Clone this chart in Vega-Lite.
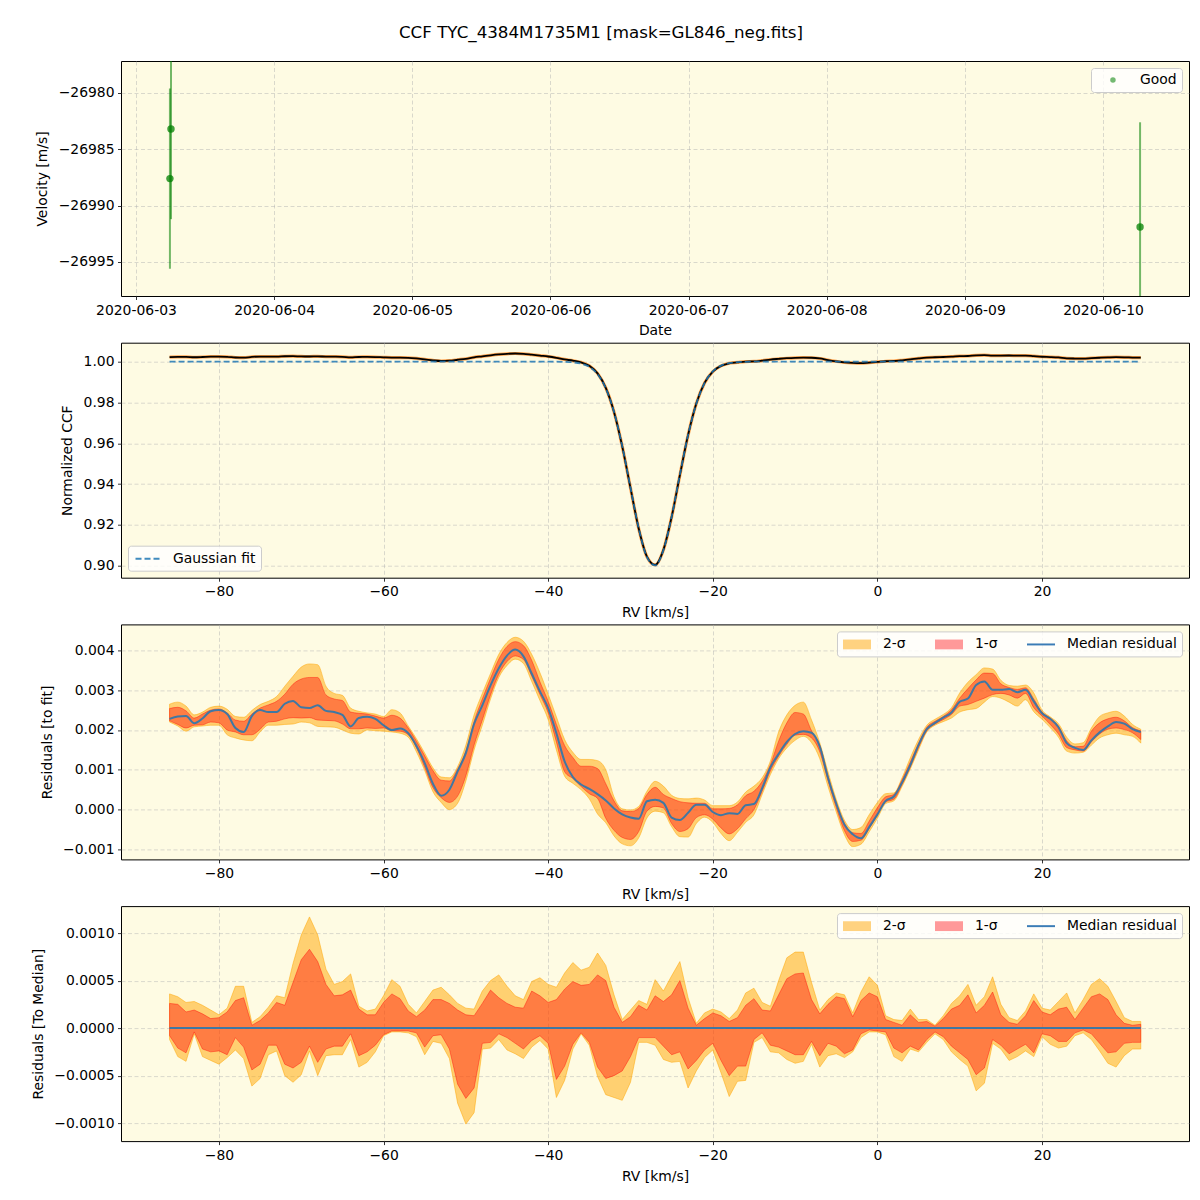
{
"$schema": "https://vega.github.io/schema/vega-lite/v6.json",
"padding": {"left": 30, "top": 24, "right": 5, "bottom": 5},
"title": {"text": "CCF TYC_4384M1735M1 [mask=GL846_neg.fits]", "font": "DejaVu Sans", "fontSize": 16.7, "fontWeight": "normal", "color": "#000", "anchor": "middle", "frame": "group", "dx": -54, "offset": 19},
"bounds": "flush",
"spacing": 46.7,
"resolve": {"scale": {"color": "independent"}, "legend": {"color": "independent"}},
"datasets": {
"vel": [
{"t": "2020-06-03T06:05:00Z", "v": -26983.2, "lo": -26991.2, "hi": -26975.2, "flag": "Good"},
{"t": "2020-06-03T05:54:00Z", "v": -26987.6, "lo": -26995.6, "hi": -26979.6, "flag": "Good"},
{"t": "2020-06-10T06:26:00Z", "v": -26991.9, "lo": -27001.2, "hi": -26982.6, "flag": "Good"}
],
"rv": [
{"rv":-86,"ccf":1.00228,"fit":1,"med":0.00228,"hi2":0.00265,"hi1":0.00254,"lo1":0.00223,"lo2":0.00220,"dhi2":0.00036,"dhi1":0.00026,"dlo1":-0.00008,"dlo2":-0.00012},
{"rv":-85,"ccf":1.00234,"fit":1,"med":0.00234,"hi2":0.00270,"hi1":0.00257,"lo1":0.00214,"lo2":0.00210,"dhi2":0.00033,"dhi1":0.00025,"dlo1":-0.00021,"dlo2":-0.00030},
{"rv":-84,"ccf":1.00235,"fit":1,"med":0.00235,"hi2":0.00260,"hi1":0.00248,"lo1":0.00205,"lo2":0.00197,"dhi2":0.00027,"dhi1":0.00017,"dlo1":-0.00026,"dlo2":-0.00035},
{"rv":-83,"ccf":1.00217,"fit":1,"med":0.00217,"hi2":0.00238,"hi1":0.00230,"lo1":0.00212,"lo2":0.00208,"dhi2":0.00028,"dhi1":0.00019,"dlo1":-0.00004,"dlo2":-0.00006},
{"rv":-82,"ccf":1.00229,"fit":1,"med":0.00229,"hi2":0.00245,"hi1":0.00240,"lo1":0.00213,"lo2":0.00210,"dhi2":0.00024,"dhi1":0.00015,"dlo1":-0.00022,"dlo2":-0.00030},
{"rv":-81,"ccf":1.00247,"fit":1,"med":0.00247,"hi2":0.00257,"hi1":0.00250,"lo1":0.00220,"lo2":0.00212,"dhi2":0.00019,"dhi1":0.00010,"dlo1":-0.00025,"dlo2":-0.00034},
{"rv":-80,"ccf":1.00250,"fit":1,"med":0.00250,"hi2":0.00260,"hi1":0.00253,"lo1":0.00218,"lo2":0.00212,"dhi2":0.00014,"dhi1":0.00011,"dlo1":-0.00024,"dlo2":-0.00038},
{"rv":-79,"ccf":1.00240,"fit":1,"med":0.00240,"hi2":0.00252,"hi1":0.00243,"lo1":0.00200,"lo2":0.00188,"dhi2":0.00021,"dhi1":0.00017,"dlo1":-0.00028,"dlo2":-0.00031},
{"rv":-78,"ccf":1.00205,"fit":1,"med":0.00205,"hi2":0.00234,"hi1":0.00225,"lo1":0.00195,"lo2":0.00180,"dhi2":0.00044,"dhi1":0.00029,"dlo1":-0.00010,"dlo2":-0.00023},
{"rv":-77,"ccf":1.00195,"fit":1,"med":0.00195,"hi2":0.00232,"hi1":0.00222,"lo1":0.00188,"lo2":0.00175,"dhi2":0.00044,"dhi1":0.00032,"dlo1":-0.00020,"dlo2":-0.00032},
{"rv":-76,"ccf":1.00235,"fit":1,"med":0.00235,"hi2":0.00249,"hi1":0.00240,"lo1":0.00188,"lo2":0.00173,"dhi2":0.00006,"dhi1":0.00003,"dlo1":-0.00044,"dlo2":-0.00061},
{"rv":-75,"ccf":1.00250,"fit":1,"med":0.00250,"hi2":0.00264,"hi1":0.00255,"lo1":0.00202,"lo2":0.00195,"dhi2":0.00012,"dhi1":0.00008,"dlo1":-0.00038,"dlo2":-0.00053},
{"rv":-74,"ccf":1.00245,"fit":1,"med":0.00245,"hi2":0.00272,"hi1":0.00263,"lo1":0.00220,"lo2":0.00212,"dhi2":0.00022,"dhi1":0.00016,"dlo1":-0.00018,"dlo2":-0.00028},
{"rv":-73,"ccf":1.00245,"fit":1,"med":0.00245,"hi2":0.00284,"hi1":0.00272,"lo1":0.00222,"lo2":0.00212,"dhi2":0.00034,"dhi1":0.00027,"dlo1":-0.00018,"dlo2":-0.00024},
{"rv":-72,"ccf":1.00266,"fit":1,"med":0.00266,"hi2":0.00310,"hi1":0.00290,"lo1":0.00228,"lo2":0.00214,"dhi2":0.00032,"dhi1":0.00024,"dlo1":-0.00038,"dlo2":-0.00050},
{"rv":-71,"ccf":1.00273,"fit":1,"med":0.00273,"hi2":0.00335,"hi1":0.00315,"lo1":0.00231,"lo2":0.00215,"dhi2":0.00068,"dhi1":0.00048,"dlo1":-0.00042,"dlo2":-0.00057},
{"rv":-70,"ccf":1.00257,"fit":1,"med":0.00257,"hi2":0.00358,"hi1":0.00328,"lo1":0.00230,"lo2":0.00220,"dhi2":0.00098,"dhi1":0.00072,"dlo1":-0.00036,"dlo2":-0.00049},
{"rv":-69,"ccf":1.00255,"fit":1,"med":0.00255,"hi2":0.00366,"hi1":0.00332,"lo1":0.00231,"lo2":0.00218,"dhi2":0.00117,"dhi1":0.00083,"dlo1":-0.00019,"dlo2":-0.00024},
{"rv":-68,"ccf":1.00262,"fit":1,"med":0.00262,"hi2":0.00364,"hi1":0.00332,"lo1":0.00225,"lo2":0.00209,"dhi2":0.00098,"dhi1":0.00070,"dlo1":-0.00036,"dlo2":-0.00050},
{"rv":-67,"ccf":1.00248,"fit":1,"med":0.00248,"hi2":0.00310,"hi1":0.00288,"lo1":0.00224,"lo2":0.00208,"dhi2":0.00062,"dhi1":0.00046,"dlo1":-0.00022,"dlo2":-0.00029},
{"rv":-66,"ccf":1.00245,"fit":1,"med":0.00245,"hi2":0.00292,"hi1":0.00278,"lo1":0.00223,"lo2":0.00207,"dhi2":0.00046,"dhi1":0.00034,"dlo1":-0.00019,"dlo2":-0.00028},
{"rv":-65,"ccf":1.00238,"fit":1,"med":0.00238,"hi2":0.00287,"hi1":0.00274,"lo1":0.00215,"lo2":0.00200,"dhi2":0.00049,"dhi1":0.00035,"dlo1":-0.00019,"dlo2":-0.00028},
{"rv":-64,"ccf":1.00209,"fit":1,"med":0.00209,"hi2":0.00255,"hi1":0.00245,"lo1":0.00203,"lo2":0.00192,"dhi2":0.00057,"dhi1":0.00040,"dlo1":-0.00006,"dlo2":-0.00012},
{"rv":-63,"ccf":1.00230,"fit":1,"med":0.00230,"hi2":0.00247,"hi1":0.00242,"lo1":0.00203,"lo2":0.00190,"dhi2":0.00023,"dhi1":0.00020,"dlo1":-0.00029,"dlo2":-0.00041},
{"rv":-62,"ccf":1.00233,"fit":1,"med":0.00233,"hi2":0.00243,"hi1":0.00240,"lo1":0.00205,"lo2":0.00200,"dhi2":0.00018,"dhi1":0.00014,"dlo1":-0.00025,"dlo2":-0.00036},
{"rv":-61,"ccf":1.00228,"fit":1,"med":0.00228,"hi2":0.00240,"hi1":0.00235,"lo1":0.00204,"lo2":0.00198,"dhi2":0.00020,"dhi1":0.00014,"dlo1":-0.00018,"dlo2":-0.00025},
{"rv":-60,"ccf":1.00212,"fit":1,"med":0.00212,"hi2":0.00234,"hi1":0.00230,"lo1":0.00205,"lo2":0.00197,"dhi2":0.00034,"dhi1":0.00027,"dlo1":-0.00007,"dlo2":-0.00008},
{"rv":-59,"ccf":1.00200,"fit":1,"med":0.00200,"hi2":0.00251,"hi1":0.00237,"lo1":0.00198,"lo2":0.00195,"dhi2":0.00051,"dhi1":0.00036,"dlo1":-0.00003,"dlo2":-0.00004},
{"rv":-58,"ccf":1.00204,"fit":1,"med":0.00204,"hi2":0.00243,"hi1":0.00230,"lo1":0.00197,"lo2":0.00192,"dhi2":0.00044,"dhi1":0.00031,"dlo1":-0.00003,"dlo2":-0.00004},
{"rv":-57,"ccf":1.00192,"fit":1,"med":0.00192,"hi2":0.00210,"hi1":0.00205,"lo1":0.00188,"lo2":0.00182,"dhi2":0.00025,"dhi1":0.00018,"dlo1":-0.00003,"dlo2":-0.00005},
{"rv":-56,"ccf":1.00160,"fit":1,"med":0.00160,"hi2":0.00178,"hi1":0.00172,"lo1":0.00155,"lo2":0.00145,"dhi2":0.00016,"dhi1":0.00012,"dlo1":-0.00005,"dlo2":-0.00009},
{"rv":-55,"ccf":1.00117,"fit":1,"med":0.00117,"hi2":0.00142,"hi1":0.00135,"lo1":0.00106,"lo2":0.00098,"dhi2":0.00028,"dhi1":0.00019,"dlo1":-0.00020,"dlo2":-0.00028},
{"rv":-54,"ccf":1.00065,"fit":1,"med":0.00065,"hi2":0.00105,"hi1":0.00098,"lo1":0.00055,"lo2":0.00045,"dhi2":0.00040,"dhi1":0.00030,"dlo1":-0.00008,"dlo2":-0.00014},
{"rv":-53,"ccf":1.00035,"fit":1,"med":0.00035,"hi2":0.00082,"hi1":0.00074,"lo1":0.00030,"lo2":0.00018,"dhi2":0.00043,"dhi1":0.00030,"dlo1":-0.00007,"dlo2":-0.00016},
{"rv":-52,"ccf":1.00050,"fit":1,"med":0.00050,"hi2":0.00080,"hi1":0.00072,"lo1":0.00018,"lo2":0.00000,"dhi2":0.00035,"dhi1":0.00026,"dlo1":-0.00022,"dlo2":-0.00032},
{"rv":-51,"ccf":1.00096,"fit":1,"med":0.00096,"hi2":0.00108,"hi1":0.00102,"lo1":0.00034,"lo2":0.00016,"dhi2":0.00026,"dhi1":0.00019,"dlo1":-0.00059,"dlo2":-0.00079},
{"rv":-50,"ccf":1.00142,"fit":1,"med":0.00142,"hi2":0.00162,"hi1":0.00148,"lo1":0.00085,"lo2":0.00072,"dhi2":0.00021,"dhi1":0.00014,"dlo1":-0.00074,"dlo2":-0.00101},
{"rv":-49,"ccf":1.00215,"fit":1,"med":0.00215,"hi2":0.00238,"hi1":0.00222,"lo1":0.00162,"lo2":0.00150,"dhi2":0.00020,"dhi1":0.00013,"dlo1":-0.00063,"dlo2":-0.00089},
{"rv":-48,"ccf":1.00262,"fit":1,"med":0.00262,"hi2":0.00292,"hi1":0.00278,"lo1":0.00225,"lo2":0.00212,"dhi2":0.00039,"dhi1":0.00026,"dlo1":-0.00016,"dlo2":-0.00022},
{"rv":-47,"ccf":1.00312,"fit":1,"med":0.00312,"hi2":0.00342,"hi1":0.00330,"lo1":0.00288,"lo2":0.00278,"dhi2":0.00050,"dhi1":0.00040,"dlo1":-0.00015,"dlo2":-0.00021},
{"rv":-46,"ccf":1.00355,"fit":1,"med":0.00355,"hi2":0.00390,"hi1":0.00378,"lo1":0.00340,"lo2":0.00332,"dhi2":0.00056,"dhi1":0.00032,"dlo1":-0.00006,"dlo2":-0.00012},
{"rv":-45,"ccf":1.00387,"fit":1,"med":0.00387,"hi2":0.00420,"hi1":0.00410,"lo1":0.00372,"lo2":0.00362,"dhi2":0.00044,"dhi1":0.00026,"dlo1":-0.00010,"dlo2":-0.00023},
{"rv":-44,"ccf":1.00402,"fit":1,"med":0.00402,"hi2":0.00433,"hi1":0.00422,"lo1":0.00386,"lo2":0.00378,"dhi2":0.00034,"dhi1":0.00022,"dlo1":-0.00016,"dlo2":-0.00027},
{"rv":-43,"ccf":1.00385,"fit":1,"med":0.00385,"hi2":0.00423,"hi1":0.00412,"lo1":0.00377,"lo2":0.00367,"dhi2":0.00030,"dhi1":0.00021,"dlo1":-0.00022,"dlo2":-0.00032},
{"rv":-42,"ccf":1.00342,"fit":1,"med":0.00342,"hi2":0.00390,"hi1":0.00375,"lo1":0.00335,"lo2":0.00322,"dhi2":0.00049,"dhi1":0.00039,"dlo1":-0.00013,"dlo2":-0.00020},
{"rv":-41,"ccf":1.00297,"fit":1,"med":0.00297,"hi2":0.00344,"hi1":0.00321,"lo1":0.00289,"lo2":0.00274,"dhi2":0.00053,"dhi1":0.00034,"dlo1":-0.00008,"dlo2":-0.00013},
{"rv":-40,"ccf":1.00255,"fit":1,"med":0.00255,"hi2":0.00290,"hi1":0.00272,"lo1":0.00243,"lo2":0.00226,"dhi2":0.00046,"dhi1":0.00027,"dlo1":-0.00016,"dlo2":-0.00022},
{"rv":-39,"ccf":1.00192,"fit":1,"med":0.00192,"hi2":0.00233,"hi1":0.00214,"lo1":0.00170,"lo2":0.00150,"dhi2":0.00043,"dhi1":0.00030,"dlo1":-0.00054,"dlo2":-0.00073},
{"rv":-38,"ccf":1.00112,"fit":0.99991,"med":0.00121,"hi2":0.00176,"hi1":0.00161,"lo1":0.00095,"lo2":0.00084,"dhi2":0.00058,"dhi1":0.00041,"dlo1":-0.00040,"dlo2":-0.00055},
{"rv":-37,"ccf":1.00051,"fit":0.99969,"med":0.00082,"hi2":0.00144,"hi1":0.00131,"lo1":0.00078,"lo2":0.00066,"dhi2":0.00069,"dhi1":0.00049,"dlo1":-0.00017,"dlo2":-0.00022},
{"rv":-36,"ccf":0.99968,"fit":0.99905,"med":0.00063,"hi2":0.00126,"hi1":0.00109,"lo1":0.00058,"lo2":0.00050,"dhi2":0.00061,"dhi1":0.00045,"dlo1":-0.00005,"dlo2":-0.00006},
{"rv":-35,"ccf":0.99797,"fit":0.99745,"med":0.00052,"hi2":0.00126,"hi1":0.00109,"lo1":0.00040,"lo2":0.00027,"dhi2":0.00064,"dhi1":0.00046,"dlo1":-0.00015,"dlo2":-0.00018},
{"rv":-34,"ccf":0.99427,"fit":0.99388,"med":0.00039,"hi2":0.00123,"hi1":0.00103,"lo1":0.00028,"lo2":-0.00011,"dhi2":0.00079,"dhi1":0.00056,"dlo1":-0.00041,"dlo2":-0.00051},
{"rv":-33,"ccf":0.98719,"fit":0.98696,"med":0.00023,"hi2":0.00100,"hi1":0.00065,"lo1":-0.00022,"lo2":-0.00033,"dhi2":0.00066,"dhi1":0.00050,"dlo1":-0.00053,"dlo2":-0.00070},
{"rv":-32,"ccf":0.97537,"fit":0.97534,"med":0.00003,"hi2":0.00032,"hi1":0.00022,"lo1":-0.00052,"lo2":-0.00066,"dhi2":0.00035,"dhi1":0.00022,"dlo1":-0.00050,"dlo2":-0.00073},
{"rv":-31,"ccf":0.95848,"fit":0.95860,"med":-0.00012,"hi2":0.00002,"hi1":-0.00003,"lo1":-0.00070,"lo2":-0.00086,"dhi2":0.00009,"dhi1":0.00006,"dlo1":-0.00045,"dlo2":-0.00076},
{"rv":-30,"ccf":0.93814,"fit":0.93834,"med":-0.00020,"hi2":-0.00001,"hi1":-0.00005,"lo1":-0.00075,"lo2":-0.00091,"dhi2":0.00019,"dhi1":0.00012,"dlo1":-0.00030,"dlo2":-0.00057},
{"rv":-29,"ccf":0.91820,"fit":0.91843,"med":-0.00023,"hi2":0.00008,"hi1":0.00003,"lo1":-0.00055,"lo2":-0.00071,"dhi2":0.00029,"dhi1":0.00024,"dlo1":-0.00010,"dlo2":-0.00015},
{"rv":-28,"ccf":0.90442,"fit":0.90421,"med":0.00021,"hi2":0.00046,"hi1":0.00038,"lo1":-0.00004,"lo2":-0.00021,"dhi2":0.00025,"dhi1":0.00019,"dlo1":-0.00010,"dlo2":-0.00015},
{"rv":-27,"ccf":0.90038,"fit":0.90013,"med":0.00025,"hi2":0.00071,"hi1":0.00056,"lo1":0.00008,"lo2":-0.00004,"dhi2":0.00051,"dhi1":0.00034,"dlo1":-0.00010,"dlo2":-0.00018},
{"rv":-26,"ccf":0.90774,"fit":0.90757,"med":0.00017,"hi2":0.00059,"hi1":0.00038,"lo1":0.00004,"lo2":-0.00008,"dhi2":0.00039,"dhi1":0.00028,"dlo1":-0.00019,"dlo2":-0.00033},
{"rv":-25,"ccf":0.92385,"fit":0.92405,"med":-0.00020,"hi2":0.00036,"hi1":0.00028,"lo1":-0.00035,"lo2":-0.00043,"dhi2":0.00055,"dhi1":0.00035,"dlo1":-0.00028,"dlo2":-0.00036},
{"rv":-24,"ccf":0.94434,"fit":0.94460,"med":-0.00026,"hi2":0.00028,"hi1":0.00020,"lo1":-0.00055,"lo2":-0.00068,"dhi2":0.00070,"dhi1":0.00050,"dlo1":-0.00025,"dlo2":-0.00035},
{"rv":-23,"ccf":0.96404,"fit":0.96412,"med":-0.00008,"hi2":0.00027,"hi1":0.00017,"lo1":-0.00048,"lo2":-0.00069,"dhi2":0.00032,"dhi1":0.00021,"dlo1":-0.00043,"dlo2":-0.00063},
{"rv":-22,"ccf":0.97950,"fit":0.97938,"med":0.00012,"hi2":0.00029,"hi1":0.00016,"lo1":-0.00020,"lo2":-0.00035,"dhi2":0.00005,"dhi1":0.00003,"dlo1":-0.00034,"dlo2":-0.00045},
{"rv":-21,"ccf":0.98959,"fit":0.98947,"med":0.00012,"hi2":0.00024,"hi1":0.00016,"lo1":-0.00013,"lo2":-0.00019,"dhi2":0.00016,"dhi1":0.00010,"dlo1":-0.00023,"dlo2":-0.00031},
{"rv":-20,"ccf":0.99517,"fit":0.99523,"med":-0.00006,"hi2":0.00010,"hi1":0.00002,"lo1":-0.00024,"lo2":-0.00032,"dhi2":0.00020,"dhi1":0.00016,"dlo1":-0.00016,"dlo2":-0.00023},
{"rv":-19,"ccf":0.99794,"fit":0.99808,"med":-0.00014,"hi2":0.00010,"hi1":0.00002,"lo1":-0.00046,"lo2":-0.00060,"dhi2":0.00017,"dhi1":0.00013,"dlo1":-0.00034,"dlo2":-0.00047},
{"rv":-18,"ccf":0.99922,"fit":0.99931,"med":-0.00009,"hi2":0.00010,"hi1":0.00003,"lo1":-0.00061,"lo2":-0.00078,"dhi2":0.00010,"dhi1":0.00007,"dlo1":-0.00050,"dlo2":-0.00072},
{"rv":-17,"ccf":0.99967,"fit":0.99978,"med":-0.00011,"hi2":0.00019,"hi1":0.00012,"lo1":-0.00048,"lo2":-0.00057,"dhi2":0.00019,"dhi1":0.00011,"dlo1":-0.00040,"dlo2":-0.00056},
{"rv":-16,"ccf":1.00005,"fit":0.99994,"med":0.00011,"hi2":0.00044,"hi1":0.00035,"lo1":-0.00023,"lo2":-0.00032,"dhi2":0.00037,"dhi1":0.00024,"dlo1":-0.00040,"dlo2":-0.00055},
{"rv":-15,"ccf":1.00014,"fit":1,"med":0.00014,"hi2":0.00059,"hi1":0.00046,"lo1":0.00000,"lo2":-0.00013,"dhi2":0.00042,"dhi1":0.00031,"dlo1":-0.00012,"dlo2":-0.00015},
{"rv":-14,"ccf":1.00054,"fit":1,"med":0.00054,"hi2":0.00080,"hi1":0.00071,"lo1":0.00046,"lo2":0.00038,"dhi2":0.00027,"dhi1":0.00019,"dlo1":-0.00005,"dlo2":-0.00010},
{"rv":-13,"ccf":1.00106,"fit":1,"med":0.00106,"hi2":0.00122,"hi1":0.00113,"lo1":0.00097,"lo2":0.00088,"dhi2":0.00023,"dhi1":0.00018,"dlo1":-0.00018,"dlo2":-0.00025},
{"rv":-12,"ccf":1.00140,"fit":1,"med":0.00140,"hi2":0.00195,"hi1":0.00172,"lo1":0.00134,"lo2":0.00128,"dhi2":0.00050,"dhi1":0.00035,"dlo1":-0.00020,"dlo2":-0.00026},
{"rv":-11,"ccf":1.00170,"fit":1,"med":0.00170,"hi2":0.00238,"hi1":0.00218,"lo1":0.00164,"lo2":0.00155,"dhi2":0.00074,"dhi1":0.00052,"dlo1":-0.00024,"dlo2":-0.00033},
{"rv":-10,"ccf":1.00190,"fit":1,"med":0.00190,"hi2":0.00262,"hi1":0.00244,"lo1":0.00187,"lo2":0.00174,"dhi2":0.00080,"dhi1":0.00057,"dlo1":-0.00028,"dlo2":-0.00037},
{"rv":-9,"ccf":1.00197,"fit":1,"med":0.00197,"hi2":0.00270,"hi1":0.00240,"lo1":0.00189,"lo2":0.00184,"dhi2":0.00080,"dhi1":0.00058,"dlo1":-0.00028,"dlo2":-0.00035},
{"rv":-8,"ccf":1.00193,"fit":1,"med":0.00193,"hi2":0.00225,"hi1":0.00198,"lo1":0.00180,"lo2":0.00168,"dhi2":0.00048,"dhi1":0.00030,"dlo1":-0.00014,"dlo2":-0.00017},
{"rv":-7,"ccf":1.00158,"fit":1,"med":0.00158,"hi2":0.00168,"hi1":0.00162,"lo1":0.00145,"lo2":0.00128,"dhi2":0.00019,"dhi1":0.00015,"dlo1":-0.00029,"dlo2":-0.00041},
{"rv":-6,"ccf":1.00080,"fit":1,"med":0.00080,"hi2":0.00095,"hi1":0.00085,"lo1":0.00072,"lo2":0.00058,"dhi2":0.00030,"dhi1":0.00025,"dlo1":-0.00016,"dlo2":-0.00029},
{"rv":-5,"ccf":1.00015,"fit":1,"med":0.00015,"hi2":0.00026,"hi1":0.00018,"lo1":0.00005,"lo2":-0.00006,"dhi2":0.00037,"dhi1":0.00033,"dlo1":-0.00019,"dlo2":-0.00027},
{"rv":-4,"ccf":0.99962,"fit":1,"med":-0.00038,"hi2":-0.00027,"hi1":-0.00034,"lo1":-0.00053,"lo2":-0.00063,"dhi2":0.00035,"dhi1":0.00031,"dlo1":-0.00027,"dlo2":-0.00031},
{"rv":-3,"ccf":0.99938,"fit":1,"med":-0.00062,"hi2":-0.00050,"hi1":-0.00058,"lo1":-0.00080,"lo2":-0.00093,"dhi2":0.00016,"dhi1":0.00012,"dlo1":-0.00023,"dlo2":-0.00025},
{"rv":-2,"ccf":0.99928,"fit":1,"med":-0.00072,"hi2":-0.00045,"hi1":-0.00060,"lo1":-0.00077,"lo2":-0.00087,"dhi2":0.00038,"dhi1":0.00029,"dlo1":-0.00006,"dlo2":-0.00010},
{"rv":-1,"ccf":0.99956,"fit":1,"med":-0.00044,"hi2":-0.00013,"hi1":-0.00029,"lo1":-0.00048,"lo2":-0.00056,"dhi2":0.00054,"dhi1":0.00037,"dlo1":-0.00002,"dlo2":-0.00004},
{"rv":0,"ccf":0.99988,"fit":1,"med":-0.00012,"hi2":0.00018,"hi1":0.00005,"lo1":-0.00014,"lo2":-0.00022,"dhi2":0.00045,"dhi1":0.00033,"dlo1":-0.00003,"dlo2":-0.00004},
{"rv":1,"ccf":1.00022,"fit":1,"med":0.00022,"hi2":0.00040,"hi1":0.00032,"lo1":0.00019,"lo2":0.00015,"dhi2":0.00013,"dhi1":0.00009,"dlo1":-0.00004,"dlo2":-0.00007},
{"rv":2,"ccf":1.00033,"fit":1,"med":0.00033,"hi2":0.00042,"hi1":0.00038,"lo1":0.00026,"lo2":0.00022,"dhi2":0.00009,"dhi1":0.00006,"dlo1":-0.00021,"dlo2":-0.00030},
{"rv":3,"ccf":1.00068,"fit":1,"med":0.00068,"hi2":0.00080,"hi1":0.00075,"lo1":0.00063,"lo2":0.00058,"dhi2":0.00008,"dhi1":0.00003,"dlo1":-0.00026,"dlo2":-0.00035},
{"rv":4,"ccf":1.00112,"fit":1,"med":0.00112,"hi2":0.00130,"hi1":0.00120,"lo1":0.00107,"lo2":0.00102,"dhi2":0.00020,"dhi1":0.00014,"dlo1":-0.00019,"dlo2":-0.00022},
{"rv":5,"ccf":1.00162,"fit":1,"med":0.00162,"hi2":0.00176,"hi1":0.00167,"lo1":0.00156,"lo2":0.00150,"dhi2":0.00009,"dhi1":0.00006,"dlo1":-0.00023,"dlo2":-0.00025},
{"rv":6,"ccf":1.00202,"fit":1,"med":0.00202,"hi2":0.00212,"hi1":0.00207,"lo1":0.00198,"lo2":0.00195,"dhi2":0.00009,"dhi1":0.00007,"dlo1":-0.00012,"dlo2":-0.00015},
{"rv":7,"ccf":1.00218,"fit":1,"med":0.00218,"hi2":0.00227,"hi1":0.00222,"lo1":0.00215,"lo2":0.00212,"dhi2":0.00003,"dhi1":0.00002,"dlo1":-0.00004,"dlo2":-0.00006},
{"rv":8,"ccf":1.00231,"fit":1,"med":0.00231,"hi2":0.00239,"hi1":0.00234,"lo1":0.00226,"lo2":0.00221,"dhi2":0.00013,"dhi1":0.00010,"dlo1":-0.00009,"dlo2":-0.00012},
{"rv":9,"ccf":1.00244,"fit":1,"med":0.00244,"hi2":0.00256,"hi1":0.00251,"lo1":0.00239,"lo2":0.00230,"dhi2":0.00026,"dhi1":0.00020,"dlo1":-0.00019,"dlo2":-0.00025},
{"rv":10,"ccf":1.00271,"fit":1,"med":0.00271,"hi2":0.00293,"hi1":0.00280,"lo1":0.00260,"lo2":0.00245,"dhi2":0.00034,"dhi1":0.00024,"dlo1":-0.00026,"dlo2":-0.00033},
{"rv":11,"ccf":1.00279,"fit":1,"med":0.00279,"hi2":0.00320,"hi1":0.00304,"lo1":0.00264,"lo2":0.00251,"dhi2":0.00046,"dhi1":0.00035,"dlo1":-0.00033,"dlo2":-0.00040},
{"rv":12,"ccf":1.00313,"fit":1,"med":0.00313,"hi2":0.00339,"hi1":0.00326,"lo1":0.00272,"lo2":0.00254,"dhi2":0.00024,"dhi1":0.00016,"dlo1":-0.00049,"dlo2":-0.00066},
{"rv":13,"ccf":1.00322,"fit":1,"med":0.00322,"hi2":0.00356,"hi1":0.00343,"lo1":0.00280,"lo2":0.00270,"dhi2":0.00033,"dhi1":0.00024,"dlo1":-0.00042,"dlo2":-0.00058},
{"rv":14,"ccf":1.00301,"fit":1,"med":0.00301,"hi2":0.00353,"hi1":0.00342,"lo1":0.00289,"lo2":0.00284,"dhi2":0.00054,"dhi1":0.00038,"dlo1":-0.00012,"dlo2":-0.00016},
{"rv":15,"ccf":1.00301,"fit":1,"med":0.00301,"hi2":0.00325,"hi1":0.00316,"lo1":0.00292,"lo2":0.00280,"dhi2":0.00025,"dhi1":0.00014,"dlo1":-0.00018,"dlo2":-0.00022},
{"rv":16,"ccf":1.00303,"fit":1,"med":0.00303,"hi2":0.00312,"hi1":0.00307,"lo1":0.00288,"lo2":0.00270,"dhi2":0.00011,"dhi1":0.00006,"dlo1":-0.00027,"dlo2":-0.00034},
{"rv":17,"ccf":1.00295,"fit":1,"med":0.00295,"hi2":0.00310,"hi1":0.00302,"lo1":0.00280,"lo2":0.00260,"dhi2":0.00008,"dhi1":0.00004,"dlo1":-0.00022,"dlo2":-0.00030},
{"rv":18,"ccf":1.00301,"fit":1,"med":0.00301,"hi2":0.00313,"hi1":0.00306,"lo1":0.00292,"lo2":0.00276,"dhi2":0.00018,"dhi1":0.00013,"dlo1":-0.00017,"dlo2":-0.00024},
{"rv":19,"ccf":1.00272,"fit":1,"med":0.00272,"hi2":0.00293,"hi1":0.00278,"lo1":0.00256,"lo2":0.00246,"dhi2":0.00036,"dhi1":0.00029,"dlo1":-0.00026,"dlo2":-0.00030},
{"rv":20,"ccf":1.00242,"fit":1,"med":0.00242,"hi2":0.00250,"hi1":0.00245,"lo1":0.00235,"lo2":0.00227,"dhi2":0.00021,"dhi1":0.00017,"dlo1":-0.00006,"dlo2":-0.00009},
{"rv":21,"ccf":1.00228,"fit":1,"med":0.00228,"hi2":0.00233,"hi1":0.00230,"lo1":0.00214,"lo2":0.00206,"dhi2":0.00019,"dhi1":0.00014,"dlo1":-0.00008,"dlo2":-0.00017},
{"rv":22,"ccf":1.00207,"fit":1,"med":0.00207,"hi2":0.00216,"hi1":0.00210,"lo1":0.00190,"lo2":0.00182,"dhi2":0.00028,"dhi1":0.00020,"dlo1":-0.00014,"dlo2":-0.00021},
{"rv":23,"ccf":1.00167,"fit":1,"med":0.00167,"hi2":0.00182,"hi1":0.00173,"lo1":0.00156,"lo2":0.00147,"dhi2":0.00037,"dhi1":0.00022,"dlo1":-0.00014,"dlo2":-0.00019},
{"rv":24,"ccf":1.00155,"fit":1,"med":0.00155,"hi2":0.00165,"hi1":0.00158,"lo1":0.00150,"lo2":0.00142,"dhi2":0.00016,"dhi1":0.00009,"dlo1":-0.00005,"dlo2":-0.00008},
{"rv":25,"ccf":1.00150,"fit":1,"med":0.00150,"hi2":0.00168,"hi1":0.00159,"lo1":0.00147,"lo2":0.00144,"dhi2":0.00030,"dhi1":0.00021,"dlo1":-0.00002,"dlo2":-0.00005},
{"rv":26,"ccf":1.00174,"fit":1,"med":0.00174,"hi2":0.00205,"hi1":0.00197,"lo1":0.00170,"lo2":0.00162,"dhi2":0.00046,"dhi1":0.00033,"dlo1":-0.00006,"dlo2":-0.00012},
{"rv":27,"ccf":1.00194,"fit":1,"med":0.00194,"hi2":0.00234,"hi1":0.00218,"lo1":0.00190,"lo2":0.00180,"dhi2":0.00052,"dhi1":0.00036,"dlo1":-0.00016,"dlo2":-0.00024},
{"rv":28,"ccf":1.00209,"fit":1,"med":0.00209,"hi2":0.00243,"hi1":0.00228,"lo1":0.00202,"lo2":0.00188,"dhi2":0.00044,"dhi1":0.00030,"dlo1":-0.00026,"dlo2":-0.00037},
{"rv":29,"ccf":1.00220,"fit":1,"med":0.00220,"hi2":0.00247,"hi1":0.00232,"lo1":0.00205,"lo2":0.00192,"dhi2":0.00028,"dhi1":0.00014,"dlo1":-0.00025,"dlo2":-0.00041},
{"rv":30,"ccf":1.00216,"fit":1,"med":0.00216,"hi2":0.00235,"hi1":0.00223,"lo1":0.00201,"lo2":0.00188,"dhi2":0.00011,"dhi1":0.00005,"dlo1":-0.00016,"dlo2":-0.00029},
{"rv":31,"ccf":1.00202,"fit":1,"med":0.00202,"hi2":0.00214,"hi1":0.00206,"lo1":0.00193,"lo2":0.00184,"dhi2":0.00007,"dhi1":0.00003,"dlo1":-0.00015,"dlo2":-0.00022},
{"rv":32,"ccf":1.00195,"fit":1,"med":0.00195,"hi2":0.00202,"hi1":0.00198,"lo1":0.00176,"lo2":0.00167,"dhi2":0.00007,"dhi1":0.00004,"dlo1":-0.00015,"dlo2":-0.00022}
]
},
"vconcat": [
{
"width": 1068, "height": 235,
"data": {"name": "vel"},
"encoding": {
"x": {"field": "t", "type": "temporal", "scale": {"type": "utc", "domain": [{"year": 2020, "month": 6, "date": 2, "hours": 21, "minutes": 24, "utc": true}, {"year": 2020, "month": 6, "date": 10, "hours": 14, "minutes": 56, "utc": true}]},
"axis": {"title": "Date", "labelExpr": "utcFormat(datum.value, '%Y-%m-%d')", "grid": true, "values": [{"year": 2020, "month": 6, "date": 3, "utc": true}, {"year": 2020, "month": 6, "date": 4, "utc": true}, {"year": 2020, "month": 6, "date": 5, "utc": true}, {"year": 2020, "month": 6, "date": 6, "utc": true}, {"year": 2020, "month": 6, "date": 7, "utc": true}, {"year": 2020, "month": 6, "date": 8, "utc": true}, {"year": 2020, "month": 6, "date": 9, "utc": true}, {"year": 2020, "month": 6, "date": 10, "utc": true}]}}
},
"layer": [
{"mark": {"type": "rule", "clip": true, "color": "#008000", "opacity": 0.55, "strokeWidth": 2},
"encoding": {"y": {"field": "lo", "type": "quantitative", "scale": {"domain": [-26998.02, -26977.16], "nice": false, "zero": false}, "axis": {"title": "Velocity [m/s]", "titleX": -79, "titleBaseline": "middle", "values": [-26995, -26990, -26985, -26980], "format": "d"}}, "y2": {"field": "hi"}}},
{"mark": {"type": "point", "filled": true, "size": 55, "opacity": 0.75, "clip": true},
"encoding": {"y": {"field": "v", "type": "quantitative"},
"color": {"field": "flag", "type": "nominal", "scale": {"range": ["#008000"]}, "legend": {"title": null, "orient": "top-right", "offset": 7, "symbolType": "circle", "symbolSize": 30, "symbolOpacity": 0.55, "padding": 5, "symbolOffset": 10, "labelOffset": 20}}}}
]
},
{
"width": 1068, "height": 235,
"data": {"name": "rv"},
"encoding": {"x": {"field": "rv", "type": "quantitative", "scale": {"domain": [-91.9, 37.86], "nice": false, "zero": false}, "axis": {"title": "RV [km/s]", "values": [-80, -60, -40, -20, 0, 20], "format": "d"}}},
"layer": [
{"mark": {"type": "line", "color": "#ff7f0e", "strokeWidth": 3.2, "opacity": 0.7, "interpolate": "monotone"},
"encoding": {"y": {"field": "ccf", "type": "quantitative", "scale": {"domain": [0.89412, 1.00931], "nice": false, "zero": false}, "axis": {"title": "Normalized CCF", "titleX": -54, "titleBaseline": "middle", "values": [0.9, 0.92, 0.94, 0.96, 0.98, 1.0], "format": ".2f"}}}},
{"mark": {"type": "line", "color": "#000000", "strokeWidth": 1.8, "interpolate": "monotone"},
"encoding": {"y": {"field": "ccf", "type": "quantitative"}}},
{"mark": {"type": "line", "strokeWidth": 1.8, "strokeDash": [6, 3], "opacity": 0.85, "interpolate": "monotone"},
"encoding": {"y": {"field": "fit", "type": "quantitative"},
"color": {"datum": "Gaussian fit", "scale": {"range": ["#1f77b4"]}, "legend": {"title": null, "orient": "bottom-left", "offset": 7, "symbolType": "M-2,0H2", "symbolSize": 182, "symbolStrokeWidth": 2, "symbolDash": [6, 3], "symbolOffset": 8, "padding": 5, "labelOffset": 16}}}}
]
},
{
"width": 1068, "height": 235,
"data": {"name": "rv"},
"encoding": {"x": {"field": "rv", "type": "quantitative", "scale": {"domain": [-91.9, 37.86], "nice": false, "zero": false}, "axis": {"title": "RV [km/s]", "values": [-80, -60, -40, -20, 0, 20], "format": "d"}}},
"layer": [
{"mark": {"type": "area", "interpolate": "monotone", "fill": "#ffa500", "fillOpacity": 0.5, "stroke": "#ffa500", "strokeOpacity": 0.5, "strokeWidth": 1},
"encoding": {"y": {"field": "lo2", "type": "quantitative", "scale": {"domain": [-0.001251, 0.004653], "nice": false, "zero": false}, "axis": {"title": "Residuals [to fit]", "titleX": -74, "titleBaseline": "middle", "values": [-0.001, 0, 0.001, 0.002, 0.003, 0.004], "format": ".3f"}}, "y2": {"field": "hi2"}}},
{"mark": {"type": "area", "interpolate": "monotone", "fill": "#ff0000", "fillOpacity": 0.4, "stroke": "#ff0000", "strokeOpacity": 0.4, "strokeWidth": 1},
"encoding": {"y": {"field": "lo1", "type": "quantitative"}, "y2": {"field": "hi1"}}},
{"mark": {"type": "line", "interpolate": "monotone", "strokeWidth": 2, "color": "#1f77b4", "opacity": 0.85},
"encoding": {"y": {"field": "med", "type": "quantitative"}}},
{"transform": [{"filter": "false"}],
"mark": {"type": "point", "filled": true},
"encoding": {"y": {"field": "med", "type": "quantitative"},
"color": {"field": "cat", "type": "nominal", "scale": {"domain": ["2-σ", "1-σ", "Median residual"], "range": ["#ffd280", "#ff9999", "#3b7cb6"]},
"legend": {"title": null, "orient": "top-right", "offset": 7, "columns": 3, "columnPadding": 28, "labelOffset": 18, "symbolOffset": 7, "padding": 5, "symbolSize": 196, "symbolType": "M-2,-0.7H2V0.7H-2Z", "symbolOpacity": 1,
"encoding": {"symbols": {"shape": {"value": {"expr": "datum.label === 'Median residual' ? 'M-2,-0.14H2V0.14H-2Z' : 'M-2,-0.7H2V0.7H-2Z'"}}}}}}}}
]
},
{
"width": 1068, "height": 235,
"data": {"name": "rv"},
"encoding": {"x": {"field": "rv", "type": "quantitative", "scale": {"domain": [-91.9, 37.86], "nice": false, "zero": false}, "axis": {"title": "RV [km/s]", "values": [-80, -60, -40, -20, 0, 20], "format": "d"}}},
"layer": [
{"mark": {"type": "area", "fill": "#ffa500", "fillOpacity": 0.5, "stroke": "#ffa500", "strokeOpacity": 0.5, "strokeWidth": 1},
"encoding": {"y": {"field": "dlo2", "type": "quantitative", "scale": {"domain": [-0.001189, 0.001284], "nice": false, "zero": false}, "axis": {"title": "Residuals [To Median]", "titleX": -83, "titleBaseline": "middle", "values": [-0.001, -0.0005, 0, 0.0005, 0.001], "format": ".4f"}}, "y2": {"field": "dhi2"}}},
{"mark": {"type": "area", "fill": "#ff0000", "fillOpacity": 0.4, "stroke": "#ff0000", "strokeOpacity": 0.4, "strokeWidth": 1},
"encoding": {"y": {"field": "dlo1", "type": "quantitative"}, "y2": {"field": "dhi1"}}},
{"mark": {"type": "line", "strokeWidth": 2, "color": "#1f77b4", "opacity": 0.85},
"encoding": {"y": {"datum": 0}}},
{"transform": [{"filter": "false"}],
"mark": {"type": "point", "filled": true},
"encoding": {"y": {"field": "med", "type": "quantitative"},
"color": {"field": "cat", "type": "nominal", "scale": {"domain": ["2-σ", "1-σ", "Median residual"], "range": ["#ffd280", "#ff9999", "#3b7cb6"]},
"legend": {"title": null, "orient": "top-right", "offset": 7, "columns": 3, "columnPadding": 28, "labelOffset": 18, "symbolOffset": 7, "padding": 5, "symbolSize": 196, "symbolType": "M-2,-0.7H2V0.7H-2Z", "symbolOpacity": 1,
"encoding": {"symbols": {"shape": {"value": {"expr": "datum.label === 'Median residual' ? 'M-2,-0.14H2V0.14H-2Z' : 'M-2,-0.7H2V0.7H-2Z'"}}}}}}}}
]
}
],
"config": {
"font": "DejaVu Sans",
"view": {"fill": "#fefbe3", "stroke": "#000000", "strokeWidth": 1},
"axis": {"domain": false, "labelFont": "DejaVu Sans", "labelFontSize": 13.9, "labelColor": "#000000", "titleFont": "DejaVu Sans", "titleFontSize": 13.9, "titleFontWeight": "normal", "titleColor": "#000000", "tickColor": "#000000", "tickSize": 3.5, "tickWidth": 0.8, "labelPadding": 3.5, "gridColor": "#b0b0b0", "gridOpacity": 0.6, "gridDash": [4, 2.5], "gridWidth": 0.8, "labelOverlap": false, "labelFlush": false},
"axisX": {"titlePadding": 7},
"legend": {"labelFont": "DejaVu Sans", "labelFontSize": 13.9, "labelColor": "#000000", "fillColor": "rgba(255,255,255,0.8)", "strokeColor": "#cccccc", "cornerRadius": 3}
}
}
